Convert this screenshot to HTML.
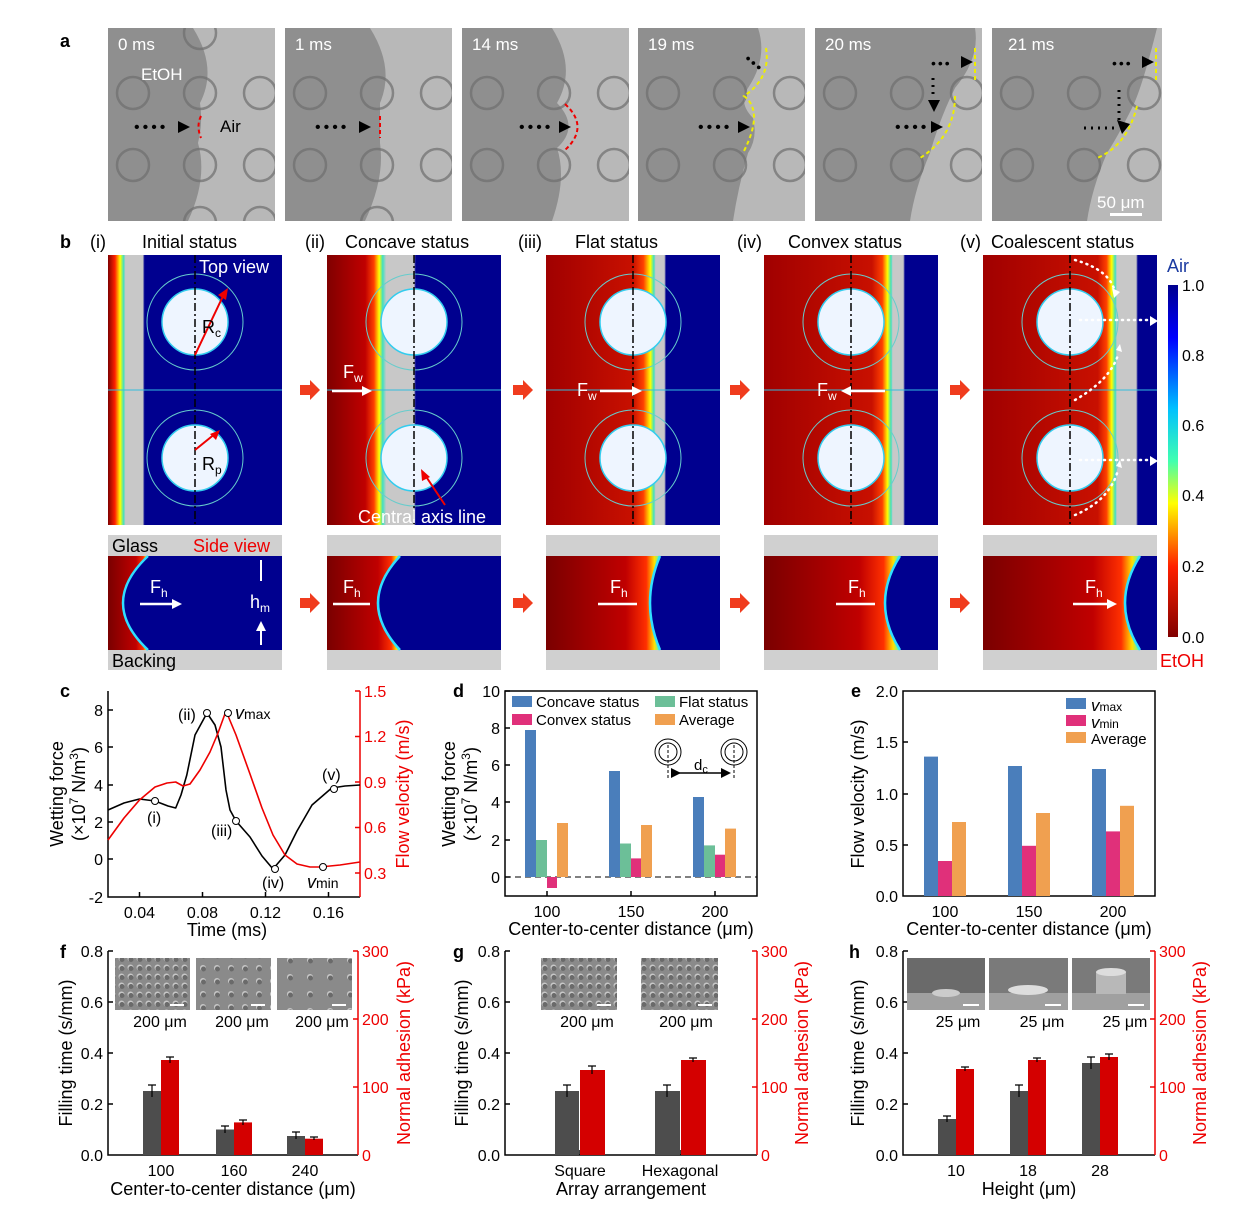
<!DOCTYPE html>
<html><head><meta charset="utf-8"><style>body{margin:0;background:#fff}svg{display:block}text{font-family:"Liberation Sans",sans-serif}</style></head><body>
<svg width="1247" height="1217" viewBox="0 0 1247 1217" xmlns="http://www.w3.org/2000/svg">
<defs>
<clipPath id="fc"><rect width="167" height="193"/></clipPath>
<clipPath id="fc2"><rect width="170" height="193"/></clipPath>
<linearGradient id="cb" x1="0" y1="0" x2="0" y2="1"><stop offset="0" stop-color="#00008f"/><stop offset=".15" stop-color="#0000ff"/><stop offset=".35" stop-color="#00c0ff"/><stop offset=".5" stop-color="#40ffb0"/><stop offset=".62" stop-color="#ffff00"/><stop offset=".8" stop-color="#ff2000"/><stop offset="1" stop-color="#800000"/></linearGradient>
<linearGradient id="rd" x1="0" y1="0" x2="1" y2="0"><stop offset="0" stop-color="#7a0000"/><stop offset=".7" stop-color="#c00000"/><stop offset=".88" stop-color="#ff3000"/><stop offset=".95" stop-color="#ffe000"/><stop offset="1" stop-color="#40ffc0"/></linearGradient>
<linearGradient id="g1" x1="0" y1="0" x2="1" y2="0"><stop offset="0" stop-color="#800000"/><stop offset=".04" stop-color="#ff2000"/><stop offset=".07" stop-color="#ffff00"/><stop offset=".09" stop-color="#40e0c0"/><stop offset=".1" stop-color="#c8c8c8"/><stop offset=".2" stop-color="#c8c8c8"/><stop offset=".21" stop-color="#00008f"/></linearGradient>
<linearGradient id="g2" x1="0" y1="0" x2="1" y2="0"><stop offset="0" stop-color="#800000"/><stop offset=".22" stop-color="#c00000"/><stop offset=".27" stop-color="#ff4000"/><stop offset=".3" stop-color="#ffff00"/><stop offset=".32" stop-color="#40e0c0"/><stop offset=".34" stop-color="#c8c8c8"/><stop offset=".5" stop-color="#c8c8c8"/><stop offset=".51" stop-color="#00008f"/></linearGradient>
<linearGradient id="g3" x1="0" y1="0" x2="1" y2="0"><stop offset="0" stop-color="#a00000"/><stop offset=".5" stop-color="#c81000"/><stop offset=".56" stop-color="#ff4000"/><stop offset=".6" stop-color="#ffff00"/><stop offset=".62" stop-color="#40e0c0"/><stop offset=".63" stop-color="#c8c8c8"/><stop offset=".68" stop-color="#c8c8c8"/><stop offset=".69" stop-color="#00008f"/></linearGradient>
<linearGradient id="g4" x1="0" y1="0" x2="1" y2="0"><stop offset="0" stop-color="#a00000"/><stop offset=".62" stop-color="#c81000"/><stop offset=".68" stop-color="#ff4000"/><stop offset=".71" stop-color="#ffff00"/><stop offset=".73" stop-color="#40e0c0"/><stop offset=".74" stop-color="#c8c8c8"/><stop offset=".8" stop-color="#c8c8c8"/><stop offset=".81" stop-color="#00008f"/></linearGradient>
<linearGradient id="g5" x1="0" y1="0" x2="1" y2="0"><stop offset="0" stop-color="#a00000"/><stop offset=".66" stop-color="#c81000"/><stop offset=".71" stop-color="#ff4000"/><stop offset=".74" stop-color="#ffff00"/><stop offset=".76" stop-color="#40e0c0"/><stop offset=".77" stop-color="#c8c8c8"/><stop offset=".88" stop-color="#c8c8c8"/><stop offset=".89" stop-color="#00008f"/></linearGradient>
<g id="pill"><circle r="16" fill="none" stroke="#6e6e6e" stroke-width="2.5" opacity=".7"/></g>
<marker id="ah" markerUnits="userSpaceOnUse" markerWidth="10" markerHeight="10" refX="5" refY="5" orient="auto"><path d="M0,0 L10,5 L0,10Z" fill="#fff"/></marker>
<marker id="ak" markerUnits="userSpaceOnUse" markerWidth="10" markerHeight="10" refX="5" refY="5" orient="auto"><path d="M0,0 L10,5 L0,10Z" fill="#000"/></marker>
</defs>
<rect width="1247" height="1217" fill="#fff"/>

<!-- panel a -->
<text x="60" y="47" font-size="18" font-weight="bold">a</text>
<g transform="translate(108,28)"><g clip-path="url(#fc)"><rect width="167" height="193" fill="#b8b8b8"/><path d="M0,0 H85 Q110,40 92,75 Q95,95 90,115 Q100,150 80,193 H0Z" fill="#8f8f8f"/>
<use href="#pill" x="25" y="65"/><use href="#pill" x="92" y="65"/><use href="#pill" x="152" y="65"/><use href="#pill" x="25" y="137"/><use href="#pill" x="92" y="137"/><use href="#pill" x="152" y="137"/><use href="#pill" x="92" y="5"/><use href="#pill" x="92" y="195"/><use href="#pill" x="152" y="195"/></g>
<text x="10" y="22" font-size="17" fill="#fff">0 ms</text><text x="33" y="52" font-size="17" fill="#fff">EtOH</text><text x="112" y="104" font-size="17" fill="#000">Air</text>
<text x="26" y="104" font-size="16" letter-spacing="3">••••</text><path d="M70,93 l12,6 l-12,6z"/><path d="M93,88 q-5,10 0,22" stroke="#e00" stroke-width="2" fill="none" stroke-dasharray="4,3"/></g>
<g transform="translate(285,28)"><g clip-path="url(#fc)"><rect width="167" height="193" fill="#b8b8b8"/><path d="M0,0 H85 Q110,40 95,75 L95,115 Q100,150 80,193 H0Z" fill="#8f8f8f"/>
<use href="#pill" x="25" y="65"/><use href="#pill" x="92" y="65"/><use href="#pill" x="152" y="65"/><use href="#pill" x="25" y="137"/><use href="#pill" x="92" y="137"/><use href="#pill" x="152" y="137"/><use href="#pill" x="92" y="195"/></g>
<text x="10" y="22" font-size="17" fill="#fff">1 ms</text><text x="30" y="104" font-size="16" letter-spacing="3">••••</text><path d="M74,93 l12,6 l-12,6z"/><path d="M95,88 v22" stroke="#e00" stroke-width="2" stroke-dasharray="4,3"/></g>
<g transform="translate(462,28)"><g clip-path="url(#fc)"><rect width="167" height="193" fill="#b8b8b8"/><path d="M0,0 H90 Q115,40 95,75 Q118,99 95,120 Q105,150 90,193 H0Z" fill="#8f8f8f"/>
<use href="#pill" x="25" y="65"/><use href="#pill" x="92" y="65"/><use href="#pill" x="152" y="65"/><use href="#pill" x="25" y="137"/><use href="#pill" x="92" y="137"/><use href="#pill" x="152" y="137"/></g>
<text x="10" y="22" font-size="17" fill="#fff">14 ms</text><text x="57" y="104" font-size="16" letter-spacing="3">••••</text><path d="M97,93 l12,6 l-12,6z"/><path d="M103,76 q25,23 0,46" stroke="#e00" stroke-width="2" fill="none" stroke-dasharray="4,3"/></g>
<g transform="translate(638,28)"><g clip-path="url(#fc)"><rect width="167" height="193" fill="#b8b8b8"/><path d="M0,0 H120 Q130,30 110,60 Q100,75 115,90 Q120,110 110,125 Q100,160 95,193 H0Z" fill="#8f8f8f"/>
<use href="#pill" x="25" y="65"/><use href="#pill" x="92" y="65"/><use href="#pill" x="152" y="65"/><use href="#pill" x="25" y="137"/><use href="#pill" x="92" y="137"/><use href="#pill" x="152" y="137"/></g>
<text x="10" y="22" font-size="17" fill="#fff">19 ms</text><text x="60" y="104" font-size="16" letter-spacing="3">••••</text><text x="108" y="35" font-size="14" transform="rotate(40 110 30)" letter-spacing="2">•••</text><path d="M100,93 l12,6 l-12,6z"/><path d="M128,20 q5,30 -22,48 q20,15 0,55" stroke="#ee0" stroke-width="2" fill="none" stroke-dasharray="4,3"/></g>
<g transform="translate(815,28)"><g clip-path="url(#fc)"><rect width="167" height="193" fill="#b8b8b8"/><path d="M0,0 H160 Q165,30 140,60 Q125,90 115,125 Q100,160 95,193 H0Z" fill="#8f8f8f"/>
<use href="#pill" x="25" y="65"/><use href="#pill" x="92" y="65"/><use href="#pill" x="152" y="65"/><use href="#pill" x="25" y="137"/><use href="#pill" x="92" y="137"/><use href="#pill" x="152" y="137"/></g>
<text x="10" y="22" font-size="17" fill="#fff">20 ms</text><text x="80" y="104" font-size="16" letter-spacing="3">••••</text><text x="116" y="40" font-size="14" letter-spacing="2">•••</text><path d="M146,28 l12,6 l-12,6z"/><path d="M118,50 v20" stroke="#000" stroke-width="3" stroke-dasharray="2,5"/><path d="M113,72 l6,12 l6,-12z"/><path d="M116,93 l12,6 l-12,6z"/><path d="M160,20 v35 M140,68 q0,40 -35,62" stroke="#ee0" stroke-width="2" fill="none" stroke-dasharray="4,3"/></g>
<g transform="translate(992,28)"><g clip-path="url(#fc2)"><rect width="170" height="193" fill="#b8b8b8"/><path d="M0,0 H165 Q150,60 140,80 Q125,110 115,125 Q100,160 95,193 H0Z" fill="#8f8f8f"/>
<use href="#pill" x="25" y="65"/><use href="#pill" x="92" y="65"/><use href="#pill" x="152" y="65"/><use href="#pill" x="25" y="137"/><use href="#pill" x="92" y="137"/><use href="#pill" x="152" y="137"/></g>
<text x="16" y="22" font-size="17" fill="#fff">21 ms</text><text x="120" y="40" font-size="14" letter-spacing="2">•••</text><path d="M150,28 l12,6 l-12,6z"/><path d="M127,62 v30" stroke="#000" stroke-width="3" stroke-dasharray="2,5"/><path d="M92,100 h30" stroke="#000" stroke-width="3" stroke-dasharray="2,5"/><path d="M125,92 l5,14 l8,-10z"/><path d="M164,20 v35 M145,78 q-10,40 -40,52" stroke="#ee0" stroke-width="2" fill="none" stroke-dasharray="4,3"/>
<text x="105" y="180" font-size="17" fill="#fff">50 μm</text><rect x="118" y="185" width="32" height="3" fill="#fff"/></g>

<!-- panel b -->
<text x="60" y="248" font-size="18" font-weight="bold">b</text>
<g font-size="18"><text x="90" y="248">(i)</text><text x="142" y="248">Initial status</text><text x="305" y="248">(ii)</text><text x="345" y="248">Concave status</text><text x="518" y="248">(iii)</text><text x="575" y="248">Flat status</text><text x="737" y="248">(iv)</text><text x="788" y="248">Convex status</text><text x="960" y="248">(v)</text><text x="991" y="248">Coalescent status</text></g>
<rect x="108" y="255" width="174" height="270" fill="url(#g1)"/>
<rect x="327" y="255" width="174" height="270" fill="url(#g2)"/>
<rect x="546" y="255" width="174" height="270" fill="url(#g3)"/>
<rect x="764" y="255" width="174" height="270" fill="url(#g4)"/>
<rect x="983" y="255" width="174" height="270" fill="url(#g5)"/>
<g fill="none" stroke="#6cc" stroke-width="1">
<circle cx="195" cy="322" r="48"/><circle cx="195" cy="458" r="48"/><circle cx="414" cy="322" r="48"/><circle cx="414" cy="458" r="48"/><circle cx="633" cy="322" r="48"/><circle cx="633" cy="458" r="48"/><circle cx="851" cy="322" r="48"/><circle cx="851" cy="458" r="48"/><circle cx="1070" cy="322" r="48"/><circle cx="1070" cy="458" r="48"/></g>
<g fill="#eef5ff" stroke="#3ce" stroke-width="1.5">
<circle cx="195" cy="322" r="33"/><circle cx="195" cy="458" r="33"/><circle cx="414" cy="322" r="33"/><circle cx="414" cy="458" r="33"/><circle cx="633" cy="322" r="33"/><circle cx="633" cy="458" r="33"/><circle cx="851" cy="322" r="33"/><circle cx="851" cy="458" r="33"/><circle cx="1070" cy="322" r="33"/><circle cx="1070" cy="458" r="33"/></g>
<g stroke="#000" stroke-width="1.5" stroke-dasharray="8,3,2,3"><path d="M195,255V525M414,255V525M633,255V525M851,255V525M1070,255V525"/></g>
<path d="M108,390H282M327,390H501M546,390H720M764,390H938M983,390H1157" stroke="#3bd" stroke-width="1"/>
<text x="199" y="273" font-size="18" fill="#fff">Top view</text>
<path d="M195,355 L224,294" stroke="#e00" stroke-width="2"/><path d="M228,288 l-2,12 l-8,-5z" fill="#e00"/><text x="202" y="333" font-size="18">R<tspan font-size="12" dy="4">c</tspan></text>
<path d="M195,450 L216,433" stroke="#e00" stroke-width="2"/><path d="M220,430 l-4,10 l-6,-6z" fill="#e00"/><text x="202" y="470" font-size="18">R<tspan font-size="12" dy="4">p</tspan></text>
<text x="343" y="378" font-size="18" fill="#fff">F<tspan font-size="12" dy="4">w</tspan></text><path d="M332,391 H367" stroke="#fff" stroke-width="2.5" marker-end="url(#ah)"/>
<text x="577" y="396" font-size="18" fill="#fff">F<tspan font-size="12" dy="4">w</tspan></text><path d="M600,391 H637" stroke="#fff" stroke-width="2.5" marker-end="url(#ah)"/>
<text x="817" y="396" font-size="18" fill="#fff">F<tspan font-size="12" dy="4">w</tspan></text><path d="M885,391 H846" stroke="#fff" stroke-width="2.5" marker-end="url(#ah)"/>
<path d="M445,505 L425,475" stroke="#e00" stroke-width="2"/><path d="M421,469 l1,12 l8,-4z" fill="#e00"/>
<text x="358" y="523" font-size="18" fill="#fff">Central axis line</text>
<g stroke="#fff" stroke-width="2.5" stroke-dasharray="1,5" fill="none" stroke-linecap="round"><path d="M1075,260 Q1110,270 1115,292M1075,400 Q1110,380 1118,355M1075,515 Q1110,500 1118,470M1080,320 H1150M1080,460 H1150"/></g>
<g fill="#fff"><path d="M1150,316 l8,5 l-8,5z M1150,456 l8,5 l-8,5z M1112,288 l8,4 l-6,6z M1116,350 l4,-6 l2,8z M1116,466 l4,-6 l2,8z"/></g>
<!-- colorbar -->
<rect x="1168" y="285" width="10" height="352" fill="url(#cb)"/>
<text x="1167" y="272" font-size="18" fill="#1a3aa0">Air</text><text x="1160" y="667" font-size="18" fill="#e00">EtOH</text>
<g font-size="16"><text x="1182" y="291">1.0</text><text x="1182" y="361">0.8</text><text x="1182" y="431">0.6</text><text x="1182" y="501">0.4</text><text x="1182" y="572">0.2</text><text x="1182" y="643">0.0</text></g>
<!-- arrows -->
<g fill="#f03c1e"><path d="M300,385h10v-5l10,10l-10,10v-5h-10z"/><path d="M300,385h10v-5l10,10l-10,10v-5h-10z" transform="translate(213,0)"/><path d="M300,385h10v-5l10,10l-10,10v-5h-10z" transform="translate(430,0)"/><path d="M300,385h10v-5l10,10l-10,10v-5h-10z" transform="translate(650,0)"/>
<path d="M300,598h10v-5l10,10l-10,10v-5h-10z"/><path d="M300,598h10v-5l10,10l-10,10v-5h-10z" transform="translate(213,0)"/><path d="M300,598h10v-5l10,10l-10,10v-5h-10z" transform="translate(430,0)"/><path d="M300,598h10v-5l10,10l-10,10v-5h-10z" transform="translate(650,0)"/></g>
<!-- side view -->
<g fill="#d0d0d0"><rect x="108" y="535" width="174" height="21"/><rect x="108" y="650" width="174" height="20"/><rect x="327" y="535" width="174" height="21"/><rect x="327" y="650" width="174" height="20"/><rect x="546" y="535" width="174" height="21"/><rect x="546" y="650" width="174" height="20"/><rect x="764" y="535" width="174" height="21"/><rect x="764" y="650" width="174" height="20"/><rect x="983" y="535" width="174" height="21"/><rect x="983" y="650" width="174" height="20"/></g>
<g fill="#00008f"><rect x="108" y="556" width="174" height="94"/><rect x="327" y="556" width="174" height="94"/><rect x="546" y="556" width="174" height="94"/><rect x="764" y="556" width="174" height="94"/><rect x="983" y="556" width="174" height="94"/></g>
<g fill="url(#rd)">
<path d="M108,556 H148 Q98,603 148,650 H108Z"/><path d="M327,556 H400 Q356,603 400,650 H327Z"/><path d="M546,556 H660 Q640,603 660,650 H546Z"/><path d="M764,556 H900 Q870,603 900,650 H764Z"/><path d="M983,556 H1140 Q1110,603 1140,650 H983Z"/></g>
<g fill="none" stroke="#30e0ff" stroke-width="2.5"><path d="M148,556 Q98,603 148,650M400,556 Q356,603 400,650M660,556 Q640,603 660,650M900,556 Q870,603 900,650M1140,556 Q1110,603 1140,650"/></g>
<text x="112" y="552" font-size="18">Glass</text><text x="193" y="552" font-size="18" fill="#e00">Side view</text><text x="112" y="667" font-size="18">Backing</text>
<text x="150" y="593" font-size="18" fill="#fff">F<tspan font-size="12" dy="4">h</tspan></text><path d="M140,604H177" stroke="#fff" stroke-width="2.5" marker-end="url(#ah)"/>
<path d="M261,560V581M261,645V626" stroke="#fff" stroke-width="2" marker-end="url(#ah)"/><text x="250" y="608" font-size="18" fill="#fff">h<tspan font-size="12" dy="4">m</tspan></text>
<g font-size="18" fill="#fff"><text x="343" y="593">F<tspan font-size="12" dy="4">h</tspan></text><text x="610" y="593">F<tspan font-size="12" dy="4">h</tspan></text><text x="848" y="593">F<tspan font-size="12" dy="4">h</tspan></text><text x="1085" y="593">F<tspan font-size="12" dy="4">h</tspan></text></g>
<path d="M333,604H370M598,604H637M836,604H875M1073,604H1112" stroke="#fff" stroke-width="2.5" marker-end="url(#ah)"/>

<!-- panel c -->
<text x="60" y="697" font-size="18" font-weight="bold">c</text>
<path d="M108,691V897H360" fill="none" stroke="#000" stroke-width="1.5"/><path d="M360,691V897" stroke="#e00" stroke-width="1.5"/>
<g stroke="#000" stroke-width="1.5"><path d="M108,710h5M108,747h5M108,785h5M108,822h5M108,859h5M139.5,897v-5M202.5,897v-5M265.5,897v-5M328.5,897v-5"/></g>
<g stroke="#e00" stroke-width="1.5"><path d="M360,691h-5M360,736.5h-5M360,782h-5M360,827.5h-5M360,873h-5"/></g>
<g font-size="16" text-anchor="end"><text x="103" y="716">8</text><text x="103" y="753">6</text><text x="103" y="791">4</text><text x="103" y="828">2</text><text x="103" y="865">0</text><text x="103" y="903">-2</text></g>
<g font-size="16" fill="#e00"><text x="364" y="697">1.5</text><text x="364" y="742">1.2</text><text x="364" y="788">0.9</text><text x="364" y="833">0.6</text><text x="364" y="879">0.3</text></g>
<g font-size="16" text-anchor="middle"><text x="139.5" y="918">0.04</text><text x="202.5" y="918">0.08</text><text x="265.5" y="918">0.12</text><text x="328.5" y="918">0.16</text></g>
<text x="227" y="936" font-size="18" text-anchor="middle">Time (ms)</text>
<text transform="translate(63,794) rotate(-90)" font-size="18" text-anchor="middle">Wetting force</text>
<text transform="translate(85,794) rotate(-90)" font-size="18" text-anchor="middle">(×10<tspan font-size="12" dy="-7">7</tspan><tspan dy="7"> N/m</tspan><tspan font-size="12" dy="-7">3</tspan><tspan dy="7">)</tspan></text>
<text transform="translate(409,794) rotate(-90)" font-size="18" text-anchor="middle" fill="#e00">Flow velocity (m/s)</text>
<polyline fill="none" stroke="#000" stroke-width="1.6" stroke-linejoin="round" points="108,810 124,803 139.5,799 155,801 168,806 175.7,808 181,795 186.8,775 195,735 207,713 215,725 221,747 226,790 230,810 236,821 250,837 262,856 273,869 285,855 297,831 312,805 331.7,788 345,786 360,785"/>
<polyline fill="none" stroke="#e00" stroke-width="1.6" stroke-linejoin="round" points="108,840 124,818 139.5,800 155,787 167,783 175.7,782 183,786 190,784 200,770 210,752 218,733 226,711 236,735 250,774 262,808 273,835 285,855 297,864 310,867 320,867 340,865 360,862"/>
<g fill="#fff" stroke="#000" stroke-width="1"><circle cx="155" cy="801" r="3.5"/><circle cx="207" cy="713" r="3.5"/><circle cx="236" cy="821" r="3.5"/><circle cx="275" cy="869" r="3.5"/><circle cx="334" cy="789" r="3.5"/><circle cx="228" cy="713" r="3.5"/><circle cx="323" cy="867" r="3.5"/></g>
<g font-size="16"><text x="147" y="823">(i)</text><text x="178" y="720">(ii)</text><text x="211" y="836">(iii)</text><text x="262" y="888">(iv)</text><text x="322" y="780">(v)</text></g>
<text x="235" y="719" font-size="18" font-family="Liberation Serif" font-style="italic">v<tspan font-family="Liberation Sans" font-style="normal" font-size="14">max</tspan></text>
<text x="307" y="888" font-size="18" font-family="Liberation Serif" font-style="italic">v<tspan font-family="Liberation Sans" font-style="normal" font-size="14">min</tspan></text>

<!-- panel d -->
<text x="453" y="697" font-size="18" font-weight="bold">d</text>
<rect x="505" y="691" width="252" height="205" fill="none" stroke="#000" stroke-width="1.5"/>
<g stroke="#000" stroke-width="1.5"><path d="M505,877h5M505,840h5M505,802h5M505,765h5M505,728h5M505,691h5M547,896v-5M631,896v-5M715,896v-5"/></g>
<path d="M505,877H757" stroke="#000" stroke-dasharray="6,4"/>
<g font-size="16" text-anchor="end"><text x="500" y="883">0</text><text x="500" y="846">2</text><text x="500" y="808">4</text><text x="500" y="771">6</text><text x="500" y="734">8</text><text x="500" y="697">10</text></g>
<g font-size="16" text-anchor="middle"><text x="547" y="917">100</text><text x="631" y="917">150</text><text x="715" y="917">200</text></g>
<text x="631" y="935" font-size="18" text-anchor="middle">Center-to-center distance (μm)</text>
<text transform="translate(455,794) rotate(-90)" font-size="18" text-anchor="middle">Wetting force</text>
<text transform="translate(477,794) rotate(-90)" font-size="18" text-anchor="middle">(×10<tspan font-size="12" dy="-7">7</tspan><tspan dy="7"> N/m</tspan><tspan font-size="12" dy="-7">3</tspan><tspan dy="7">)</tspan></text>
<g fill="#4a7ebb"><rect x="525" y="730" width="11" height="147"/><rect x="609" y="771" width="11" height="106"/><rect x="693" y="797" width="11" height="80"/></g>
<g fill="#6cbf98"><rect x="536" y="840" width="11" height="37"/><rect x="620" y="843.5" width="11" height="33.5"/><rect x="704" y="845.4" width="11" height="31.6"/></g>
<g fill="#e0307a"><rect x="547" y="877" width="10" height="11"/><rect x="631" y="858.4" width="10" height="18.6"/><rect x="715" y="854.7" width="10" height="22.3"/></g>
<g fill="#f0a050"><rect x="557" y="823" width="11" height="54"/><rect x="641" y="825" width="11" height="52"/><rect x="725" y="828.6" width="11" height="48.4"/></g>
<g font-size="15"><rect x="512" y="696" width="20" height="11" fill="#4a7ebb"/><text x="536" y="707">Concave status</text><rect x="655" y="696" width="20" height="11" fill="#6cbf98"/><text x="679" y="707">Flat status</text>
<rect x="512" y="714" width="20" height="11" fill="#e0307a"/><text x="536" y="725">Convex status</text><rect x="655" y="714" width="20" height="11" fill="#f0a050"/><text x="679" y="725">Average</text></g>
<g fill="none" stroke="#000" stroke-width="1"><circle cx="668" cy="752" r="13"/><circle cx="668" cy="752" r="9"/><circle cx="734" cy="752" r="13"/><circle cx="734" cy="752" r="9"/><path d="M668,745V778M734,745V778" stroke-dasharray="3,2"/></g>
<path d="M676,773H726" stroke="#000" stroke-width="1.5" marker-end="url(#ak)" marker-start="url(#ak)"/><text x="694" y="770" font-size="15">d<tspan font-size="11" dy="3">c</tspan></text>

<!-- panel e -->
<text x="851" y="697" font-size="18" font-weight="bold">e</text>
<rect x="903" y="691" width="252" height="205" fill="none" stroke="#000" stroke-width="1.5"/>
<g stroke="#000" stroke-width="1.5"><path d="M903,845h5M903,794h5M903,742h5M945,896v-5M1029,896v-5M1113,896v-5"/></g>
<g font-size="16" text-anchor="end"><text x="898" y="902">0.0</text><text x="898" y="851">0.5</text><text x="898" y="800">1.0</text><text x="898" y="748">1.5</text><text x="898" y="697">2.0</text></g>
<g font-size="16" text-anchor="middle"><text x="945" y="917">100</text><text x="1029" y="917">150</text><text x="1113" y="917">200</text></g>
<text x="1029" y="935" font-size="18" text-anchor="middle">Center-to-center distance (μm)</text>
<text transform="translate(864,794) rotate(-90)" font-size="18" text-anchor="middle">Flow velocity (m/s)</text>
<g fill="#4a7ebb"><rect x="924" y="756.6" width="14" height="139.4"/><rect x="1008" y="766" width="14" height="130"/><rect x="1092" y="769" width="14" height="127"/></g>
<g fill="#e0307a"><rect x="938" y="861" width="14" height="35"/><rect x="1022" y="845.8" width="14" height="50.2"/><rect x="1106" y="831.4" width="14" height="64.6"/></g>
<g fill="#f0a050"><rect x="952" y="822" width="14" height="74"/><rect x="1036" y="813" width="14" height="83"/><rect x="1120" y="805.8" width="14" height="90.2"/></g>
<g font-size="15"><rect x="1066" y="698" width="20" height="11" fill="#4a7ebb"/><text x="1091" y="711" font-family="Liberation Serif" font-style="italic" font-size="17">v<tspan font-family="Liberation Sans" font-style="normal" font-size="12">max</tspan></text>
<rect x="1066" y="715" width="20" height="11" fill="#e0307a"/><text x="1091" y="728" font-family="Liberation Serif" font-style="italic" font-size="17">v<tspan font-family="Liberation Sans" font-style="normal" font-size="12">min</tspan></text>
<rect x="1066" y="732" width="20" height="11" fill="#f0a050"/><text x="1091" y="744">Average</text></g>

<!-- panels f g h -->
<g font-size="18" font-weight="bold"><text x="60" y="958">f</text><text x="453" y="958">g</text><text x="849" y="958">h</text></g>
<path d="M108,951V1155H358" fill="none" stroke="#000" stroke-width="1.5"/><path d="M358,951V1155" stroke="#e00" stroke-width="1.5"/>
<path d="M505,951V1155H757" fill="none" stroke="#000" stroke-width="1.5"/><path d="M757,951V1155" stroke="#e00" stroke-width="1.5"/>
<path d="M903,951V1155H1155" fill="none" stroke="#000" stroke-width="1.5"/><path d="M1155,951V1155" stroke="#e00" stroke-width="1.5"/>
<g stroke="#000" stroke-width="1.5"><path d="M108,951h5M108,1002h5M108,1053h5M108,1104h5M505,951h5M505,1002h5M505,1053h5M505,1104h5M903,951h5M903,1002h5M903,1053h5M903,1104h5M161,1155v-5M234,1155v-5M305,1155v-5M580,1155v-5M680,1155v-5M956,1155v-5M1028,1155v-5M1100,1155v-5"/></g>
<g stroke="#e00" stroke-width="1.5"><path d="M358,951h-5M358,1019h-5M358,1087h-5M757,951h-5M757,1019h-5M757,1087h-5M1155,951h-5M1155,1019h-5M1155,1087h-5"/></g>
<g font-size="16" text-anchor="end"><text x="103" y="957">0.8</text><text x="103" y="1008">0.6</text><text x="103" y="1059">0.4</text><text x="103" y="1110">0.2</text><text x="103" y="1161">0.0</text>
<text x="500" y="957">0.8</text><text x="500" y="1008">0.6</text><text x="500" y="1059">0.4</text><text x="500" y="1110">0.2</text><text x="500" y="1161">0.0</text>
<text x="898" y="957">0.8</text><text x="898" y="1008">0.6</text><text x="898" y="1059">0.4</text><text x="898" y="1110">0.2</text><text x="898" y="1161">0.0</text></g>
<g font-size="16" fill="#e00"><text x="362" y="957">300</text><text x="362" y="1025">200</text><text x="362" y="1093">100</text><text x="362" y="1161">0</text>
<text x="761" y="957">300</text><text x="761" y="1025">200</text><text x="761" y="1093">100</text><text x="761" y="1161">0</text>
<text x="1159" y="957">300</text><text x="1159" y="1025">200</text><text x="1159" y="1093">100</text><text x="1159" y="1161">0</text></g>
<g font-size="16" text-anchor="middle"><text x="161" y="1176">100</text><text x="234" y="1176">160</text><text x="305" y="1176">240</text><text x="580" y="1176">Square</text><text x="680" y="1176">Hexagonal</text><text x="956" y="1176">10</text><text x="1028" y="1176">18</text><text x="1100" y="1176">28</text></g>
<g font-size="18" text-anchor="middle"><text x="233" y="1195">Center-to-center distance (μm)</text><text x="631" y="1195">Array arrangement</text><text x="1029" y="1195">Height (μm)</text></g>
<g font-size="18" text-anchor="middle"><text transform="translate(72,1053) rotate(-90)">Filling time (s/mm)</text><text transform="translate(468,1053) rotate(-90)">Filling time (s/mm)</text><text transform="translate(864,1053) rotate(-90)">Filling time (s/mm)</text></g>
<g font-size="18" text-anchor="middle" fill="#e00"><text transform="translate(410,1053) rotate(-90)">Normal adhesion (kPa)</text><text transform="translate(808,1053) rotate(-90)">Normal adhesion (kPa)</text><text transform="translate(1206,1053) rotate(-90)">Normal adhesion (kPa)</text></g>
<g fill="#4d4d4d"><rect x="143" y="1091" width="18" height="64"/><rect x="216" y="1129.5" width="18" height="25.5"/><rect x="287" y="1136" width="18" height="19"/>
<rect x="555" y="1091" width="24" height="64"/><rect x="655" y="1091" width="25" height="64"/>
<rect x="938" y="1119" width="18" height="36"/><rect x="1010" y="1091" width="18" height="64"/><rect x="1082" y="1063" width="18" height="92"/></g>
<g fill="#d40000"><rect x="161" y="1060" width="18" height="95"/><rect x="234" y="1122.4" width="18" height="32.6"/><rect x="305" y="1138.7" width="18" height="16.3"/>
<rect x="580" y="1070" width="25" height="85"/><rect x="681" y="1060" width="25" height="95"/>
<rect x="956" y="1069" width="18" height="86"/><rect x="1028" y="1060" width="18" height="95"/><rect x="1100" y="1057" width="18" height="98"/></g>
<g stroke="#000" stroke-width="1.2"><path d="M152,1085v12M148,1085h8M225,1126v7M221,1126h8M296,1132v7M292,1132h8M567,1085v12M563,1085h8M667,1085v12M663,1085h8M947,1116v6M943,1116h8M1019,1085v12M1015,1085h8M1091,1057v12M1087,1057h8"/>
<path d="M170,1057v6M166,1057h8M243,1120v5M239,1120h8M314,1137v3M310,1137h8M592,1066v8M588,1066h8M693,1058v4M689,1058h8M965,1067v4M961,1067h8M1037,1058v4M1033,1058h8M1109,1054v6M1105,1054h8"/></g>
<defs><pattern id="dots" width="9" height="9" patternUnits="userSpaceOnUse"><rect width="9" height="9" fill="#8a8a8a"/><circle cx="4.5" cy="4.5" r="3" fill="#c8c8c8"/><circle cx="5" cy="5.5" r="2.5" fill="#6a6a6a"/></pattern>
<pattern id="dots2" width="14" height="13" patternUnits="userSpaceOnUse"><rect width="14" height="13" fill="#8a8a8a"/><circle cx="7" cy="6" r="3" fill="#c8c8c8"/><circle cx="7.5" cy="7" r="2.5" fill="#6a6a6a"/></pattern>
<pattern id="dots3" width="20" height="17" patternUnits="userSpaceOnUse"><rect width="20" height="17" fill="#8a8a8a"/><circle cx="10" cy="8" r="3" fill="#c8c8c8"/><circle cx="10.5" cy="9" r="2.5" fill="#6a6a6a"/></pattern></defs>
<rect x="115" y="958" width="75" height="52" fill="url(#dots)"/><rect x="196" y="958" width="75" height="52" fill="url(#dots2)"/><rect x="277" y="958" width="75" height="52" fill="url(#dots3)"/>
<rect x="541" y="958" width="76" height="52" fill="url(#dots)"/><rect x="641" y="958" width="77" height="52" fill="url(#dots)"/>
<rect x="907" y="958" width="78" height="52" fill="#6a6a6a"/><rect x="989" y="958" width="79" height="52" fill="#7a7a7a"/><rect x="1072" y="958" width="78" height="52" fill="#7a7a7a"/>
<rect x="907" y="993" width="78" height="17" fill="#a0a0a0"/><ellipse cx="946" cy="993" rx="14" ry="4" fill="#ccc"/>
<rect x="989" y="993" width="79" height="17" fill="#a0a0a0"/><ellipse cx="1028" cy="990" rx="20" ry="5" fill="#ddd"/>
<rect x="1072" y="993" width="78" height="17" fill="#a0a0a0"/><rect x="1096" y="972" width="30" height="22" fill="#b8b8b8"/><ellipse cx="1111" cy="972" rx="15" ry="4" fill="#ddd"/>
<g fill="#fff"><rect x="170" y="1004" width="14" height="2"/><rect x="251" y="1004" width="14" height="2"/><rect x="332" y="1004" width="14" height="2"/><rect x="597" y="1004" width="14" height="2"/><rect x="698" y="1004" width="14" height="2"/><rect x="963" y="1004" width="16" height="2"/><rect x="1045" y="1004" width="16" height="2"/><rect x="1128" y="1004" width="16" height="2"/></g>
<g font-size="16" text-anchor="middle"><text x="160" y="1027">200 μm</text><text x="242" y="1027">200 μm</text><text x="322" y="1027">200 μm</text><text x="587" y="1027">200 μm</text><text x="686" y="1027">200 μm</text><text x="958" y="1027">25 μm</text><text x="1042" y="1027">25 μm</text><text x="1125" y="1027">25 μm</text></g>
</svg>
</body></html>
